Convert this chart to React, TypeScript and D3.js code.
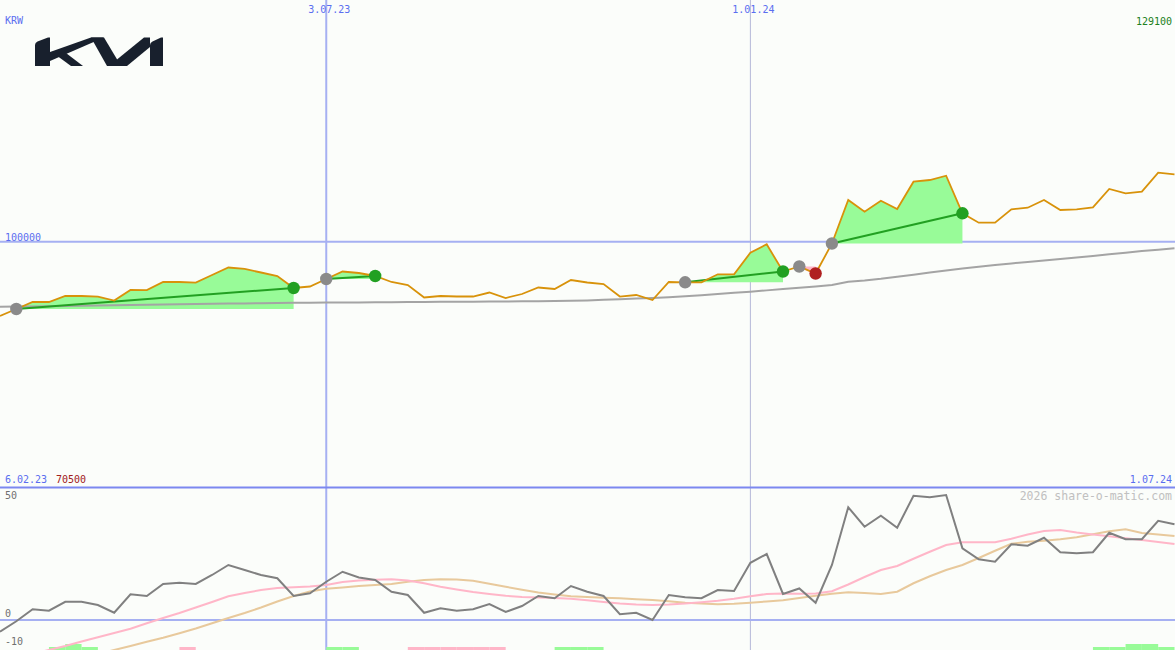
import React from "react";
import * as d3 from "d3";

// ---------- DATA ----------
const startDate = new Date(2023, 1, 13);
const endDate = new Date(2024, 6, 1);

const priceVals = [91076, 91918, 92760, 92760, 93482, 93480, 93420, 92941, 94204, 94200, 95167, 95170, 95100, 96009, 96912, 96740, 96310, 95889, 94445, 94625, 95528, 96430, 96250, 95890, 95170, 94806, 93302, 93480, 93420, 93420, 93903, 93242, 93723, 94505, 94325, 95408, 95107, 94926, 93420, 93603, 93001, 95167, 95130, 95130, 96093, 96090, 98693, 99703, 96430, 97032, 96190, 99800, 105034, 103626, 104950, 103951, 107236, 107440, 107958, 103434, 102302, 102300, 103915, 104107, 105030, 103830, 103915, 104155, 106358, 105840, 106033, 108319, 108126];

const maVals = [92200, 92210, 92220, 92240, 92280, 92310, 92340, 92360, 92400, 92430, 92460, 92490, 92520, 92540, 92570, 92590, 92620, 92640, 92660, 92680, 92690, 92700, 92710, 92720, 92730, 92760, 92770, 92780, 92790, 92800, 92810, 92830, 92840, 92860, 92870, 92900, 92950, 93020, 93100, 93180, 93250, 93330, 93450, 93580, 93720, 93860, 94000, 94160, 94320, 94480, 94640, 94800, 95200, 95350, 95550, 95800, 96050, 96300, 96550, 96780, 97000, 97200, 97400, 97580, 97760, 97930, 98110, 98300, 98500, 98700, 98900, 99060, 99220];

const momentumVals = [-4.7, -0.5, 4.3, 3.7, 7.3, 7.3, 6.0, 2.9, 10.3, 9.6, 14.4, 14.9, 14.4, 18.0, 22.0, 20.0, 18.0, 16.7, 9.6, 10.7, 15.3, 19.3, 17.0, 16.0, 11.3, 10.0, 2.9, 4.7, 3.7, 4.3, 6.4, 3.2, 5.6, 9.6, 8.7, 13.6, 11.3, 9.6, 2.3, 2.9, 0.0, 10.0, 9.1, 8.7, 12.0, 11.6, 22.9, 26.4, 10.4, 12.6, 6.9, 22.0, 45.1, 37.3, 41.7, 36.9, 49.7, 49.1, 50.0, 28.7, 24.3, 23.3, 30.3, 29.7, 32.9, 27.1, 26.7, 27.1, 34.9, 32.3, 32.3, 39.7, 38.3];

const fastVals = [-17.1, -15.4, -13.5, -12.0, -10.4, -8.6, -6.9, -5.2, -3.5, -1.3, 0.8, 2.8, 5.0, 7.2, 9.5, 10.8, 12.0, 12.8, 13.1, 13.4, 14.0, 15.2, 15.8, 16.1, 16.3, 15.8, 14.7, 13.3, 12.2, 11.2, 10.4, 9.7, 9.2, 9.0, 8.8, 8.5, 7.9, 7.2, 6.6, 6.2, 6.0, 6.2, 6.6, 7.1, 7.7, 8.5, 9.5, 10.4, 10.6, 10.5, 10.6, 11.5, 14.2, 17.2, 20.0, 21.6, 24.5, 27.3, 30.0, 31.1, 31.1, 31.1, 32.5, 34.2, 35.6, 36.0, 35.0, 34.2, 33.5, 32.7, 32.0, 31.2, 30.4];

const slowVals = [-23.4, -21.8, -20.1, -18.5, -16.9, -15.2, -13.6, -12.0, -10.4, -8.7, -7.1, -5.3, -3.4, -1.3, 0.8, 2.8, 5.0, 7.4, 9.6, 11.4, 12.5, 13.0, 13.6, 14.0, 14.4, 15.3, 16.0, 16.3, 16.2, 15.7, 14.5, 13.3, 12.1, 11.0, 10.2, 9.5, 9.2, 8.9, 8.7, 8.3, 8.0, 7.5, 6.9, 6.6, 6.3, 6.5, 6.9, 7.4, 7.9, 8.8, 9.7, 10.5, 11.1, 10.8, 10.4, 11.3, 14.7, 17.5, 20.0, 22.0, 24.8, 27.7, 30.5, 31.3, 31.7, 32.3, 33.1, 34.3, 35.5, 36.3, 34.8, 34.2, 33.6];

// trades: [entry index, exit index]
const trades = [[1, 18], [20, 23], [42, 48], [49, 50], [51, 59]];

// bottom strip: [week index, value]
const stripBars = [[3, 1], [4, 2], [5, 1], [11, -1], [20, 1], [21, 1], [25, -1], [26, -1], [27, -1], [28, -1], [29, -1], [30, -1], [34, 1], [35, 1], [36, 1], [67, 1], [68, 1], [69, 2], [70, 2], [71, 1]];

const vGridDates = [new Date(2023, 6, 3), new Date(2024, 0, 1)];
const vGridLabels = ["3.07.23", "1.01.24"];
const priceMin = 70500;
const priceMax = 129100;
const priceGrid = [100000];
const oscTicks = [50, 0, -10];

// ---------- CHART ----------
const W = 1175;
const H = 650;
const dates = priceVals.map((_, i) => d3.timeDay.offset(startDate, i * 7));

export default function App() {
  const x = d3.scaleTime().domain([startDate, endDate]).range([0, 1174.5]);
  const y = d3.scaleLinear().domain([priceMin, priceMax]).range([487, 0]);
  const yo = d3.scaleLinear().domain([0, 50]).range([620, 495]);

  const line = (vals: number[], ys: (v: number) => number) =>
    d3.line<number>().x((_, i) => x(dates[i])).y((v) => ys(v))(vals) || "";

  const font = "'DejaVu Sans Mono', monospace";
  const blue = "#5a6ef0";
  const grid = "#a6b0f2";

  const fills = trades.map(([a, b], ti) => {
    const base = priceVals[a];
    const pts: [number, number][] = [];
    for (let i = a; i <= b; i++) pts.push([x(dates[i]), y(priceVals[i])]);
    pts.push([x(dates[b]), y(base)]);
    pts.push([x(dates[a]), y(base)]);
    const win = priceVals[b] >= base;
    return (
      <path key={"f" + ti} d={"M" + pts.map((p) => p.join(",")).join("L") + "Z"} fill={win ? "#98fb98" : "#ffb6c8"} />
    );
  });

  return (
    <svg width={W} height={H} style={{ position: "absolute", left: 0, top: 0, background: "#fbfdfa" }}>
      <rect x={0} y={0} width={W} height={H} fill="#fbfdfa" />
      <defs>
        <clipPath id="top"><rect x={0} y={0} width={W} height={487} /></clipPath>
        <clipPath id="bot"><rect x={0} y={489} width={W} height={161} /></clipPath>
      </defs>

      {/* logo */}
      <g fill="#18202d">
        <path d="M35,45 Q35,42.5 37.5,41.5 L48,37.5 L50,37.5 L50,66 L35,66 Z" />
        <path d="M50,52 L91,37.5 L104,37.5 L50,61 Z" />
        <path d="M56,55 L64,51.5 L83,66 L71,66 Z" />
        <path d="M91,37.5 L104,37.5 L121,66 L107,66 Z" />
        <path d="M109,66 L144,37.5 L150,37.5 L150,47 L127,66 Z" />
        <path d="M150,45 Q150,42.5 152.5,41.5 L161,37.5 L163,37.5 L163,66 L150,66 Z" />
      </g>

      {/* grid */}
      {priceGrid.map((v) => (
        <line key={v} x1={0} x2={W} y1={y(v)} y2={y(v)} stroke={grid} strokeWidth={2} />
      ))}
      <line x1={x(vGridDates[0])} x2={x(vGridDates[0])} y1={0} y2={H} stroke={grid} strokeWidth={2} />
      <line x1={x(vGridDates[1])} x2={x(vGridDates[1])} y1={0} y2={H} stroke="#b4b8d8" strokeWidth={1} />
      <line x1={0} x2={W} y1={yo(0)} y2={yo(0)} stroke={grid} strokeWidth={2} />

      {/* top panel */}
      <g clipPath="url(#top)">
        {fills}
        <path d={line(maVals, y)} fill="none" stroke="#a4a4a4" strokeWidth={2} />
        {trades.map(([a, b], ti) => (
          <line key={"t" + ti} x1={x(dates[a])} y1={y(priceVals[a])} x2={x(dates[b])} y2={y(priceVals[b])}
            stroke={priceVals[b] >= priceVals[a] ? "#22a022" : "#ffb6c8"} strokeWidth={2} />
        ))}
        <path d={line(priceVals, y)} fill="none" stroke="#d8920a" strokeWidth={1.8} />
        {trades.map(([a, b], ti) => (
          <g key={"m" + ti}>
            <circle cx={x(dates[a])} cy={y(priceVals[a])} r={6.2} fill="#8a8a8a" />
            <circle cx={x(dates[b])} cy={y(priceVals[b])} r={6.2}
              fill={priceVals[b] >= priceVals[a] ? "#22a022" : "#b02020"} />
          </g>
        ))}
      </g>

      {/* separator */}
      <line x1={0} x2={W} y1={487.5} y2={487.5} stroke="#7c88f0" strokeWidth={2} />

      {/* lower panel */}
      <g clipPath="url(#bot)">
        {stripBars.map(([i, v]) => (
          <rect key={"s" + i} x={x(dates[i])} width={x(d3.timeDay.offset(dates[i], 7)) - x(dates[i])}
            y={H - 3 * Math.abs(v)} height={3 * Math.abs(v)} fill={v > 0 ? "#98fb98" : "#ffb6c8"} />
        ))}
        <path d={line(slowVals, yo)} fill="none" stroke="#e8c99c" strokeWidth={2} />
        <path d={line(fastVals, yo)} fill="none" stroke="#ffb6c8" strokeWidth={2} />
        <path d={line(momentumVals, yo)} fill="none" stroke="#808080" strokeWidth={2} />
      </g>

      {/* labels */}
      <g fontFamily={font} fontSize={10}>
        <text x={5} y={24} fill={blue}>KRW</text>
        {vGridDates.map((d, i) => (
          <text key={i} x={x(d) + 3} y={13} fill={blue} textAnchor="middle">{vGridLabels[i]}</text>
        ))}
        <text x={1172} y={25} fill="#208020" textAnchor="end">{String(priceMax)}</text>
        {priceGrid.map((v) => (
          <text key={v} x={5} y={y(v) - 0.5} fill={blue}>{String(v)}</text>
        ))}
        <text x={5} y={483} fill={blue}>6.02.23</text>
        <text x={56} y={483} fill="#a02020">{String(priceMin)}</text>
        <text x={1172} y={483} fill={blue} textAnchor="end">1.07.24</text>
        {oscTicks.map((t) => (
          <text key={t} x={5} y={t === 50 ? 499 : t === 0 ? 617 : 645} fill="#707070">{String(t)}</text>
        ))}
      </g>
      <text x={1172} y={500} fontFamily={font} fontSize={11.5} fill="#c0c0c0" textAnchor="end">2026 share-o-matic.com</text>
    </svg>
  );
}
